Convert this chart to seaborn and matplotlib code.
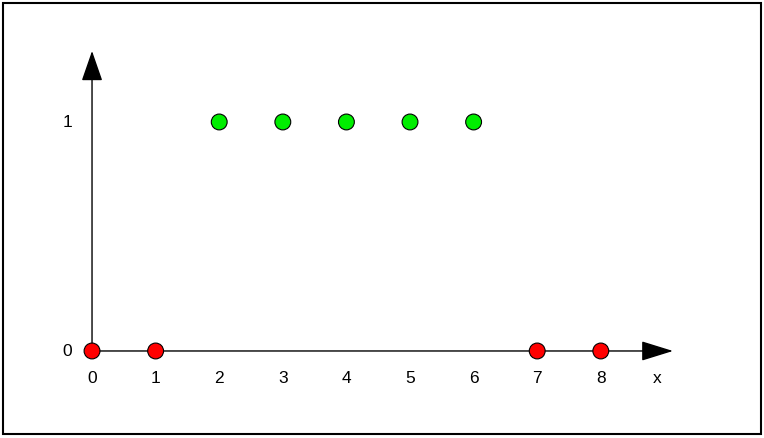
import matplotlib
matplotlib.use("Agg")
import matplotlib.pyplot as plt
import seaborn as sns
import pandas as pd
from matplotlib.patches import Rectangle

x_values = [0, 1, 2, 3, 4, 5, 6, 7, 8]
y_values = [0, 0, 1, 1, 1, 1, 1, 0, 0]
x_tick_labels = ["0", "1", "2", "3", "4", "5", "6", "7", "8"]
y_tick_labels = ["0", "1"]
y_ticks = [0, 1]

df = pd.DataFrame({"x": x_values, "y": y_values})
df["cls"] = df["y"].map({0: "zero", 1: "one"})

sns.set_theme(style="white")
plt.rcParams['font.family'] = ['Liberation Sans', 'DejaVu Sans']

fig = plt.figure(figsize=(7.64, 4.39), dpi=100)
ax = fig.add_axes([0, 0, 1, 1])

ax.set_xlim(-1.447, 10.566)
ax.set_ylim(-0.380, 1.537)
ax.axis("off")

# axes with arrows
arrow_kw = dict(color="black", lw=1.0, shrinkA=0, shrinkB=0)
ax.annotate("", xy=(0, 1.31), xytext=(0, 0),
            arrowprops=dict(arrowstyle="-|>,head_length=0.95,head_width=0.33",
                            mutation_scale=20, **arrow_kw), zorder=1)
ax.annotate("", xy=(9.135, 0), xytext=(0, 0),
            arrowprops=dict(arrowstyle="-|>,head_length=1.0,head_width=0.31",
                            mutation_scale=20, **arrow_kw), zorder=1)

sns.scatterplot(data=df, x="x", y="y", hue="cls",
                palette={"zero": "#ff0000", "one": "#00ee00"},
                s=130, edgecolor="black", linewidth=0.8, legend=False,
                ax=ax, zorder=3)

# tick labels as text
for xv, lab in zip(x_values, x_tick_labels):
    ax.text(xv, -0.115, lab, ha="center", va="center", fontsize=12.5, color="black")
ax.text(8.88, -0.115, "x", ha="center", va="center", fontsize=12.5, color="black")
for yv, lab in zip(y_ticks, y_tick_labels):
    ax.text(-0.39, yv, lab, ha="center", va="center", fontsize=12.5, color="black")

# outer border
fig.patches.append(Rectangle((3 / 764, 4 / 439), 758 / 764, 431 / 439,
                             transform=fig.transFigure, fill=False,
                             edgecolor="black", linewidth=1.5))

fig.savefig("out.png", dpi=100)
